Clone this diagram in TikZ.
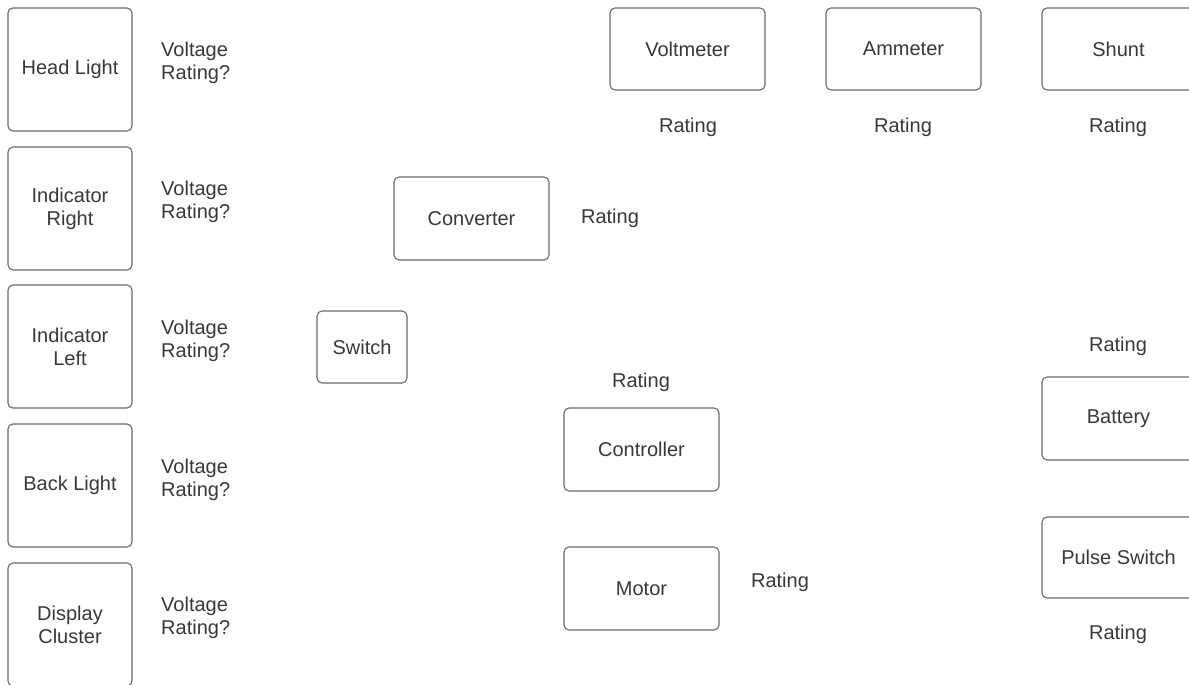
\documentclass[tikz,border=0pt]{standalone}
\usepackage{fontspec}
\setmainfont{Liberation Sans}
\definecolor{bordc}{HTML}{6A6A6A}
\definecolor{txtc}{HTML}{383838}
\newcommand\myfs{\fontsize{20}{23}\selectfont}
\begin{document}
\begin{tikzpicture}[x=1pt,y=-1pt,
  box/.style={draw=bordc, line width=1.1pt, rounded corners=5pt, text=txtc, align=center, inner sep=0pt, font=\myfs},
  lbl/.style={text=txtc, align=left, inner sep=0pt, font=\myfs},
  lw/.style={minimum width=124pt, minimum height=123pt},
  mw/.style={minimum width=155pt, minimum height=83pt},
  rw/.style={minimum width=153pt, minimum height=83pt}]
\useasboundingbox (0,0) rectangle (1189,685);
\clip (0,0) rectangle (1189,685);
% left column
\node[box,lw] (head) at (70,69.5) {Head Light};
\node[box,lw] (indr) at (70,208.5) {Indicator\\Right};
\node[box,lw] (indl) at (70,346.5) {Indicator\\Left};
\node[box,lw] (back) at (70,485.5) {Back Light};
\node[box,lw] (disp) at (70,624.5) {Display\\Cluster};
\node[lbl,anchor=west] (vh) at (161,63) {Voltage\\Rating?};
\node[lbl,anchor=west] (vr) at (161,202) {Voltage\\Rating?};
\node[lbl,anchor=west] (vl) at (161,341) {Voltage\\Rating?};
\node[lbl,anchor=west] (vb) at (161,480) {Voltage\\Rating?};
\node[lbl,anchor=west] (vd) at (161,618) {Voltage\\Rating?};
% middle
\node[box,mw,minimum height=82pt] (volt) at (687.5,49) {Voltmeter};
\node[box,mw,minimum height=82pt] (amm) at (903.5,49) {Ammeter};
\node[box,rw,minimum height=82pt] (shunt) at (1118.5,49) {Shunt};
\node[lbl] (rvolt) at (688,127) {Rating};
\node[lbl] (ramm) at (903,127) {Rating};
\node[lbl] (rshunt) at (1118,127) {Rating};
\node[box,mw] (conv) at (471.5,218.5) {Converter};
\node[lbl] (rconv) at (610,218) {Rating};
\node[box,minimum width=90pt,minimum height=72pt] (sw) at (362,347) {Switch};
\node[lbl] (rctrl) at (641,382) {Rating};
\node[box,mw] (ctrl) at (641.5,449.5) {Controller};
\node[box,mw] (motor) at (641.5,588.5) {Motor};
\node[lbl] (rmotor) at (780,582) {Rating};
% right column
\node[lbl] (rbatt) at (1118,346) {Rating};
\node[box,rw] (batt) at (1118.5,418.5) {Battery};
\node[box,rw,minimum height=81pt] (pulse) at (1118.5,557.5) {Pulse Switch};
\node[lbl] (rpulse) at (1118,634) {Rating};
\end{tikzpicture}
\end{document}
